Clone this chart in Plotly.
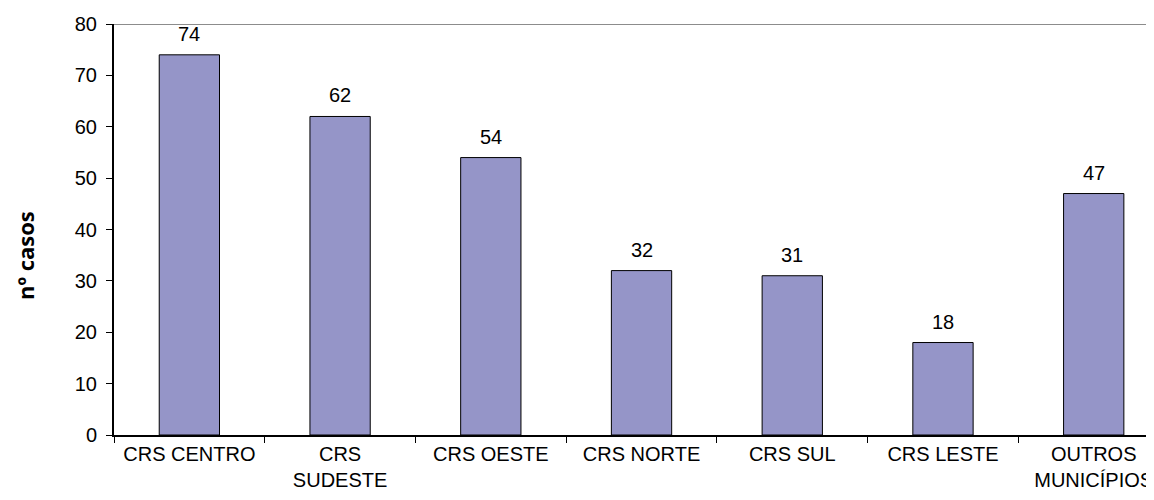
import plotly.graph_objects as go

categories = ["CRS CENTRO", "CRS<br>SUDESTE", "CRS OESTE", "CRS NORTE", "CRS SUL", "CRS LESTE", "OUTROS<br>MUNICÍPIOS"]
values = [74, 62, 54, 32, 31, 18, 47]
y_ticks = [0, 10, 20, 30, 40, 50, 60, 70, 80]

FONT = "Liberation Sans, Arial"

fig = go.Figure()
fig.add_trace(go.Bar(
    x=categories, y=values, width=0.4,
    marker=dict(color="#9595C8", line=dict(color="#000000", width=1)),
))
for c, v in zip(categories, values):
    fig.add_annotation(x=c, y=v, text=str(v), showarrow=False, yanchor="bottom", yshift=8,
                       font=dict(family=FONT, size=20, color="#000"))

fig.add_shape(type="line", xref="paper", yref="y", x0=0, x1=1, y0=80, y1=80,
              line=dict(color="#8C8C8C", width=2))

fig.add_annotation(xref="paper", yref="paper", x=0, y=0.4355, xshift=-89,
                   text="<b>nº casos</b>", textangle=-90, showarrow=False,
                   xanchor="center", yanchor="middle",
                   font=dict(family="Open Sans, Noto Sans", size=22, color="#000"))

fig.update_layout(
    width=1146, height=492,
    margin=dict(l=106, r=0, t=16, b=65),
    plot_bgcolor="white", paper_bgcolor="white",
    showlegend=False,
    font=dict(family=FONT, size=20, color="#000"),
)
fig.update_xaxes(
    type="category", range=[-0.5, 6.4], tickson="boundaries", automargin=False,
    ticks="outside", ticklen=6, tickcolor="#000", tickwidth=1,
    showline=True, linecolor="#000", linewidth=2, showgrid=False,
    tickfont=dict(family=FONT, size=20),
)
fig.update_yaxes(
    range=[0, 80], tickvals=y_ticks, ticks="outside", ticklen=6, tickcolor="#000", automargin=False,
    showline=True, linecolor="#000", linewidth=2, showgrid=False, zeroline=False,
    ticklabelstandoff=5,
    tickfont=dict(family=FONT, size=20),
)
fig.write_html("out.html")
